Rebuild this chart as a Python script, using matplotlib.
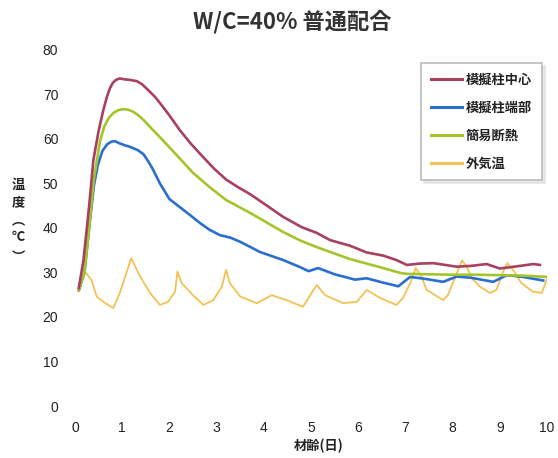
import matplotlib
matplotlib.use("Agg")
import matplotlib.pyplot as plt

plt.rcParams['font.family'] = ['Noto Sans CJK JP', 'DejaVu Sans']

# ---- data ----
center_day = [0.08, 0.18, 0.3, 0.39, 0.5, 0.6, 0.68, 0.74, 0.8, 0.87, 0.95, 1.05, 1.15, 1.31, 1.42,
              1.55, 1.7, 1.85, 2.0, 2.22, 2.45, 2.7, 2.95, 3.2, 3.45, 3.71, 4.0, 4.41, 4.8, 5.12,
              5.4, 5.83, 6.18, 6.53, 6.81, 7.03, 7.3, 7.59, 8.09, 8.4, 8.72, 9.0, 9.3, 9.71, 9.85]
center_temp = [26.5, 32.8, 45.0, 55.3, 61.8, 66.5, 69.6, 71.4, 72.6, 73.3, 73.6, 73.4, 73.3, 73.0, 72.3,
               71.0, 69.4, 67.4, 65.3, 62.0, 59.0, 56.1, 53.3, 50.9, 49.2, 47.6, 45.5, 42.5, 40.2, 38.9,
               37.3, 36.0, 34.5, 33.8, 32.8, 31.7, 32.0, 32.1, 31.3, 31.5, 31.9, 30.9, 31.3, 31.9, 31.7]

edge_day = [0.08, 0.2, 0.3, 0.4, 0.48, 0.58, 0.68, 0.77, 0.85, 0.95, 1.05, 1.15, 1.33, 1.45, 1.55,
            1.65, 1.8, 2.0, 2.22, 2.45, 2.65, 2.85, 3.07, 3.3, 3.5, 3.92, 4.41, 4.77, 4.95, 5.15,
            5.5, 5.93, 6.18, 6.5, 6.85, 7.1, 7.4, 7.8, 8.09, 8.4, 8.86, 9.15, 9.5, 9.92]
edge_temp = [26.0, 30.0, 40.0, 49.5, 54.0, 57.3, 58.8, 59.4, 59.5, 59.0, 58.6, 58.3, 57.5, 56.6, 55.0,
             53.2, 50.0, 46.5, 44.7, 42.8, 41.1, 39.6, 38.4, 37.8, 36.9, 34.6, 32.8, 31.2, 30.3, 31.0,
             29.6, 28.4, 28.7, 27.8, 26.9, 29.0, 28.6, 27.9, 29.1, 28.8, 27.9, 29.4, 29.0, 28.2]

simple_day = [0.08, 0.2, 0.3, 0.4, 0.53, 0.62, 0.72, 0.82, 0.92, 1.02, 1.12, 1.22, 1.32, 1.45, 1.6,
              1.8, 2.1, 2.5, 2.85, 3.2, 3.71, 4.41, 4.77, 5.12, 5.83, 6.53, 6.89, 7.03, 7.5, 8.0,
              8.5, 9.0, 9.5, 10.0]
simple_temp = [26.0, 30.0, 40.0, 51.0, 59.5, 62.8, 64.8, 65.9, 66.5, 66.7, 66.6, 66.2, 65.5, 64.3, 62.6,
               60.4, 57.0, 52.4, 49.2, 46.3, 43.4, 39.1, 37.2, 35.7, 33.0, 31.0, 29.9, 29.7, 29.6, 29.5,
               29.5, 29.4, 29.3, 29.0]

air_day = [0.09, 0.21, 0.35, 0.46, 0.6, 0.81, 0.95, 1.19, 1.38, 1.59, 1.8, 1.97, 2.12, 2.17, 2.26,
           2.5, 2.72, 2.93, 3.11, 3.2, 3.28, 3.5, 3.85, 4.17, 4.48, 4.83, 5.12, 5.3, 5.68, 5.97,
           6.18, 6.46, 6.81, 6.95, 7.1, 7.22, 7.35, 7.45, 7.8, 7.9, 8.09, 8.2, 8.3, 8.4, 8.58,
           8.79, 8.93, 9.07, 9.16, 9.28, 9.46, 9.7, 9.89, 9.99]
air_temp = [26.1, 30.2, 28.3, 24.6, 23.4, 22.0, 25.4, 33.2, 29.1, 25.4, 22.7, 23.4, 25.7, 30.2, 27.6,
            24.9, 22.7, 23.8, 26.8, 30.6, 27.6, 24.6, 23.1, 24.9, 23.8, 22.3, 27.2, 24.9, 23.1, 23.4,
            26.1, 24.3, 22.7, 24.3, 27.6, 31.0, 28.8, 26.1, 23.8, 24.9, 29.9, 32.7, 31.3, 28.8, 26.8,
            25.4, 26.1, 30.2, 32.1, 30.6, 27.6, 25.7, 25.4, 28.3]

labels = ['模擬柱中心', '模擬柱端部', '簡易断熱', '外気温']
x_ticks = [0, 1, 2, 3, 4, 5, 6, 7, 8, 9, 10]
y_ticks = [0, 10, 20, 30, 40, 50, 60, 70, 80]

W, H = 558, 458
fig = plt.figure(figsize=(W / 100, H / 100), dpi=100)
ax = fig.add_axes([75 / W, 1 - 406 / H, 472 / W, 356 / H])

ax.plot(center_day, center_temp, color='#a8405e', lw=1.9, label=labels[0], zorder=4)
ax.plot(edge_day, edge_temp, color='#2a6fcf', lw=1.9, label=labels[1], zorder=3)
ax.plot(simple_day, simple_temp, color='#a3c52a', lw=1.9, label=labels[2], zorder=3)
ax.plot(air_day, air_temp, color='#f3c253', lw=1.3, label=labels[3], zorder=2)

ax.set_xlim(0, 10)
ax.set_ylim(0, 80)
ax.set_xticks(x_ticks)
ax.set_yticks(y_ticks)
for s in ax.spines.values():
    s.set_visible(False)
ax.tick_params(axis='both', length=0, labelsize=10, colors='#222222')
ax.tick_params(axis='y', pad=12)
ax.tick_params(axis='x', pad=11)
for t in ax.get_xticklabels() + ax.get_yticklabels():
    t.set_family(['Liberation Sans', 'DejaVu Sans'])

leg = ax.legend(loc='upper right', bbox_to_anchor=(0.989, 0.9635), borderaxespad=0,
                frameon=True, fancybox=False, handlelength=2.35, handletextpad=0.3,
                labelspacing=1.05, borderpad=0.75,
                prop={'family': ['Noto Sans CJK JP', 'DejaVu Sans'], 'weight': 'bold', 'size': 9.5},
                shadow={'ox': 2, 'oy': -2, 'color': '0.88', 'alpha': 0.8})
leg.get_frame().set_edgecolor('#bbbbbb')
leg.get_frame().set_linewidth(1.2)
for t in leg.get_texts():
    t.set_color('#222222')
for ln in leg.get_lines():
    ln.set_linewidth(2.2)

fig.text(292 / W, 1 - 22 / H, 'W/C=40% 普通配合', ha='center', va='center',
         fontsize=16, fontweight='bold', color='#333333')
fig.text(319 / W, 1 - 446 / H, '材齢(日)', ha='center', va='center',
         fontsize=9.5, fontweight='bold', color='#222222')

for ch, yy in zip(['温', '度', '︵', '℃', '︶'], [185, 202, 220, 237, 257]):
    fig.text(18 / W, 1 - yy / H, ch, ha='center', va='center',
             fontsize=9.5, fontweight='bold', color='#222222')

fig.savefig('out.png', dpi=100)
